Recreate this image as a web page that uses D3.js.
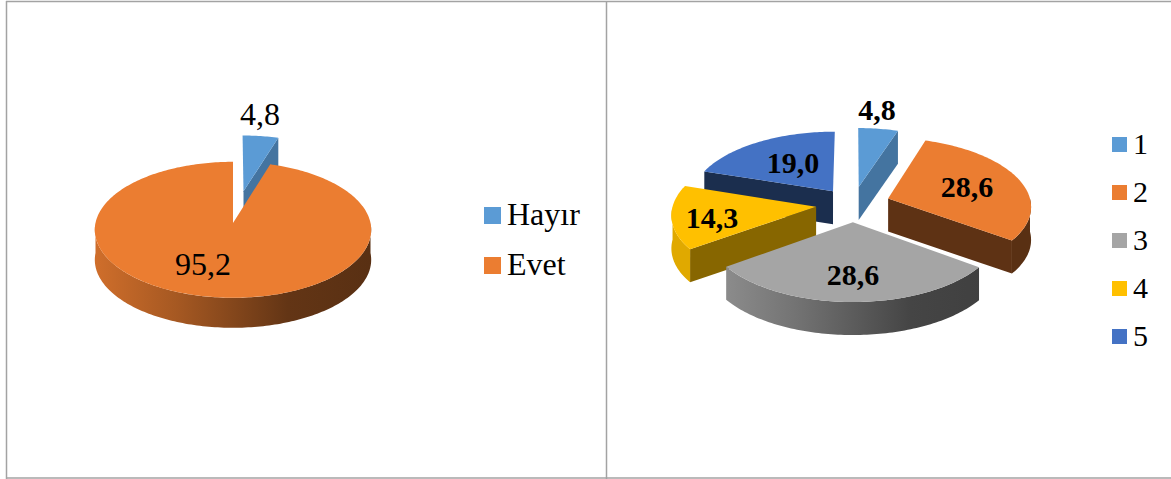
<!DOCTYPE html>
<html><head><meta charset="utf-8">
<script src="https://cdn.jsdelivr.net/npm/d3@7"></script>
<style>html,body{margin:0;padding:0;background:#fff}svg{display:block}text{font-family:"Liberation Serif",serif;fill:#000}</style>
</head><body><div id="c"></div>
<script>
const leftLabels = ["Hayır","Evet"];
const leftValues = [4.8,95.2];
const leftText = ["4,8","95,2"];
const leftColors = ["#5B9BD5","#EB7D31"];
const rightLabels = ["1","2","3","4","5"];
const rightValues = [4.8,28.6,28.6,14.3,19.0];
const rightText = ["4,8","28,6","28,6","14,3","19,0"];
const rightColors = ["#5B9BD5","#EB7D31","#A5A5A5","#FFC000","#4472C4"];

const W=1171,H=479;
const svg=d3.select("#c").append("svg").attr("width",W).attr("height",H);
const defs=svg.append("defs");
const frame=svg.append("g").attr("stroke","#a3a3a3").attr("stroke-width",1.5);
[[6.5,1,6.5,479],[606.5,1,606.5,479],[6,1.5,1171,1.5],[6,478,1171,478]].forEach(l=>
  frame.append("line").attr("x1",l[0]).attr("y1",l[1]).attr("x2",l[2]).attr("y2",l[3]));

let gid=0;
function pie3d(o){
  const slices=d3.pie().sort(null).value(d=>d)(o.values);
  const k=0.1;
  const sx=d3.scaleLinear().domain([-1,1]).range([o.cx-o.rx,o.cx+o.rx]);
  const sy=d3.scaleLinear().domain([-1,1]).range([o.cy-o.ry,o.cy+o.ry]);
  const proj=(u,v)=>{const w=1+k*(-v);return [sx(u/w),sy(v/w)];};
  const g=svg.append("g");
  const shade=(c,f)=>{const r=d3.rgb(c);return d3.rgb(r.r*f,r.g*f,r.b*f).formatHex();};
  const line=d3.line();
  const data=slices.map((s,i)=>{
    const m=(s.startAngle+s.endAngle)/2,e=o.explode[i];
    const ox=e*Math.sin(m)+(o.nudge?o.nudge[i][0]:0),oy=-e*Math.cos(m)+(o.nudge?o.nudge[i][1]:0);
    return {s,i,ox,oy};
  });
  o.order.forEach(i=>{
    const d=data[i],a0=d.s.startAngle,a1=d.s.endAngle,color=o.colors[i];
    const P=(a,r=1)=>proj(d.ox+r*Math.sin(a),d.oy-r*Math.cos(a));
    const apex=P(0,0);
    const arcPts=(x0,x1)=>{const n=Math.max(2,Math.ceil((x1-x0)/0.02));return d3.range(n+1).map(j=>P(x0+(x1-x0)*j/n));};
    const down=p=>[p[0],p[1]+o.depth];
    const id="g"+(gid++);
    const gr=defs.append("linearGradient").attr("id",id).attr("gradientUnits","userSpaceOnUse")
      .attr("x1",o.cx-o.rx).attr("x2",o.cx+o.rx).attr("y1",0).attr("y2",0);
    o.wallStops.forEach(st=>gr.append("stop").attr("offset",st[0]).attr("stop-color",shade(color,st[1])));
    const side=shade(color,o.side[i]);
    const wall=a=>{
      const r=P(a);
      g.append("path").attr("d",line([apex,r,down(r),down(apex)])+"Z").attr("fill",side);
    };
    if(Math.sin(a0)<-1e-6) wall(a0);
    if(Math.sin(a1)>1e-6) wall(a1);
    const w0=Math.max(a0,Math.PI/2),w1=Math.min(a1,Math.PI*1.5);
    if(w1>w0){
      const pts=arcPts(w0,w1);
      g.append("path").attr("d",line(pts.concat(pts.map(down).reverse()))+"Z").attr("fill",`url(#${id})`);
    }
    g.append("path").attr("d",line([apex].concat(arcPts(a0,a1)))+"Z").attr("fill",color);
  });
  o.labels.forEach((t,i)=>{
    g.append("text").attr("x",o.labelPos[i][0]).attr("y",o.labelPos[i][1]).attr("text-anchor","middle")
      .attr("font-size",o.fontSize).attr("font-weight",o.weight).text(t);
  });
}
pie3d({values:leftValues,colors:leftColors,labels:leftText,cx:233,cy:223,rx:137.5,ry:67.3,depth:30,
  explode:[0.5,0],nudge:[[0.005,0],[0,0]],order:[0,1],side:[0.75,0.4],
  wallStops:[[0,0.88],[0.3,0.7],[0.7,0.42],[1,0.38]],
  labelPos:[[260,125],[203,275]],fontSize:32,weight:"normal"});
pie3d({values:rightValues,colors:rightColors,labels:rightText,cx:853,cy:204,rx:143,ry:68,depth:33,
  explode:[0.26,0.26,0.26,0.26,0.26],nudge:[[0,0],[0,0],[0,0],[0,0],[0.01,0.02]],order:[4,0,1,3,2],side:[0.75,0.4,0.5,0.53,0.4],
  wallStops:[[0,0.88],[0.3,0.7],[0.7,0.42],[1,0.38]],
  labelPos:[[877,120],[967,197],[853,285],[712,228],[793,173]],fontSize:30,weight:"bold"});

function legend(labels,colors,x,ys,tx,size,fs,base){
  const l=svg.append("g");
  labels.forEach((t,i)=>{
    l.append("rect").attr("x",x).attr("y",ys[i]).attr("width",size).attr("height",size).attr("fill",colors[i]);
    l.append("text").attr("x",tx).attr("y",ys[i]+base).attr("font-size",fs).text(t);
  });
}
legend(leftLabels,leftColors,484,[207,257],507,17,32,18);
legend(rightLabels,rightColors,1112,[137,185,233,281,329],1133,15,30,16.5);
</script></body></html>
